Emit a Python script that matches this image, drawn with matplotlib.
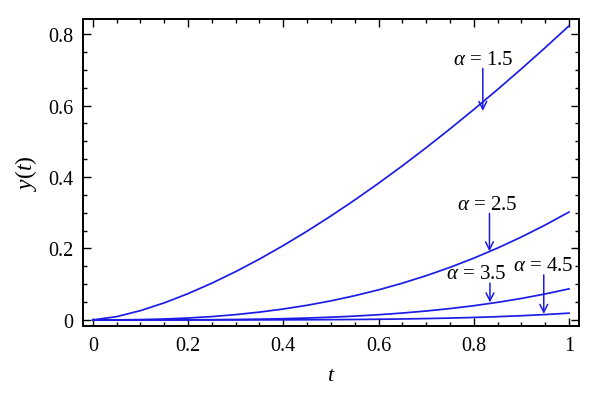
"""y(t) curves for several alpha values, recreated from a published figure."""

import matplotlib

matplotlib.use("Agg")
import matplotlib.pyplot as plt
import numpy as np

# values
t = [0.0, 0.05, 0.1, 0.15, 0.2, 0.25, 0.3, 0.35, 0.4, 0.45, 0.5,
     0.55, 0.6, 0.65, 0.7, 0.75, 0.8, 0.85, 0.9, 0.95, 1.0]
y_15 = [0.0, 0.0092, 0.026, 0.0478, 0.0736, 0.1029, 0.1352, 0.1704, 0.2082, 0.2484, 0.291,
        0.3357, 0.3825, 0.4313, 0.482, 0.5346, 0.5889, 0.645, 0.7027, 0.762, 0.823]
y_25 = [0.0, 0.0002, 0.001, 0.0026, 0.0054, 0.0094, 0.0149, 0.0219, 0.0306, 0.041, 0.0534,
        0.0678, 0.0842, 0.1029, 0.1238, 0.1471, 0.1729, 0.2012, 0.2321, 0.2657, 0.302]
y_35 = [0.0, 0.0, 0.00003, 0.0001, 0.0003, 0.0007, 0.0013, 0.0022, 0.0035, 0.0053, 0.0077,
        0.0107, 0.0146, 0.0193, 0.025, 0.0318, 0.0398, 0.0493, 0.0602, 0.0727, 0.087]
y_45 = [0.0, 0.0, 0.0, 0.0, 0.00001, 0.00004, 0.00008, 0.00017, 0.00031, 0.00052, 0.00084,
        0.00129, 0.00191, 0.00273, 0.00382, 0.00521, 0.00696, 0.00914, 0.01183, 0.01508, 0.019]

# label text, text anchor (t, y) and arrow tip (t, y)
labels = [r"$\alpha$ = 1.5", r"$\alpha$ = 2.5", r"$\alpha$ = 3.5", r"$\alpha$ = 4.5"]
text_xy = [(0.819, 0.73), (0.829, 0.324), (0.806, 0.129), (0.945, 0.152)]
tip_xy = [(0.819, 0.585), (0.833, 0.192), (0.834, 0.049), (0.947, 0.017)]

plt.rcParams["font.family"] = ["Liberation Serif", "DejaVu Serif"]
plt.rcParams["mathtext.fontset"] = "custom"
plt.rcParams["mathtext.rm"] = "Liberation Serif"
plt.rcParams["mathtext.it"] = "Liberation Serif:italic"

BLUE = "#1c1ce6"

fig = plt.figure(figsize=(6.0, 4.1), dpi=100)
ax = fig.add_axes([0.138, 0.2024, 0.827, 0.7486])

for ys in (y_15, y_25, y_35, y_45):
    ax.plot(t, ys, color=BLUE, linewidth=1.25)

for lab, (tx, ty), (ax_t, ax_y) in zip(labels, text_xy, tip_xy):
    ax.text(tx, ty, lab, ha="center", va="center", fontsize=15)
    ax.annotate("", xy=(ax_t, ax_y), xytext=(ax_t, ty - 0.026),
                arrowprops=dict(arrowstyle="->", color=BLUE, lw=1.1,
                                mutation_scale=14, shrinkA=0, shrinkB=0))

ax.set_xlim(-0.021, 1.021)
ax.set_ylim(-0.017, 0.842)
ax.set_xticks([0, 0.2, 0.4, 0.6, 0.8, 1.0])
ax.set_xticklabels(["0", "0.2", "0.4", "0.6", "0.8", "1"])
ax.set_yticks([0, 0.2, 0.4, 0.6, 0.8])
ax.set_yticklabels(["0", "0.2", "0.4", "0.6", "0.8"])
ax.set_xticks(np.arange(0, 1.001, 0.05), minor=True)
ax.set_yticks(np.arange(0, 0.801, 0.05), minor=True)
ax.tick_params(which="both", direction="in", top=True, right=True,
               labelsize=14.5, width=1.0, pad=7)
ax.tick_params(which="major", length=5.5)
ax.tick_params(which="minor", length=3)
for sp in ax.spines.values():
    sp.set_linewidth(1.4)

ax.set_xlabel("$t$", fontsize=16, labelpad=8)
ax.set_ylabel("$y(t)$", fontsize=17, labelpad=6)

fig.savefig("out.png", dpi=100)
plt.close(fig)
